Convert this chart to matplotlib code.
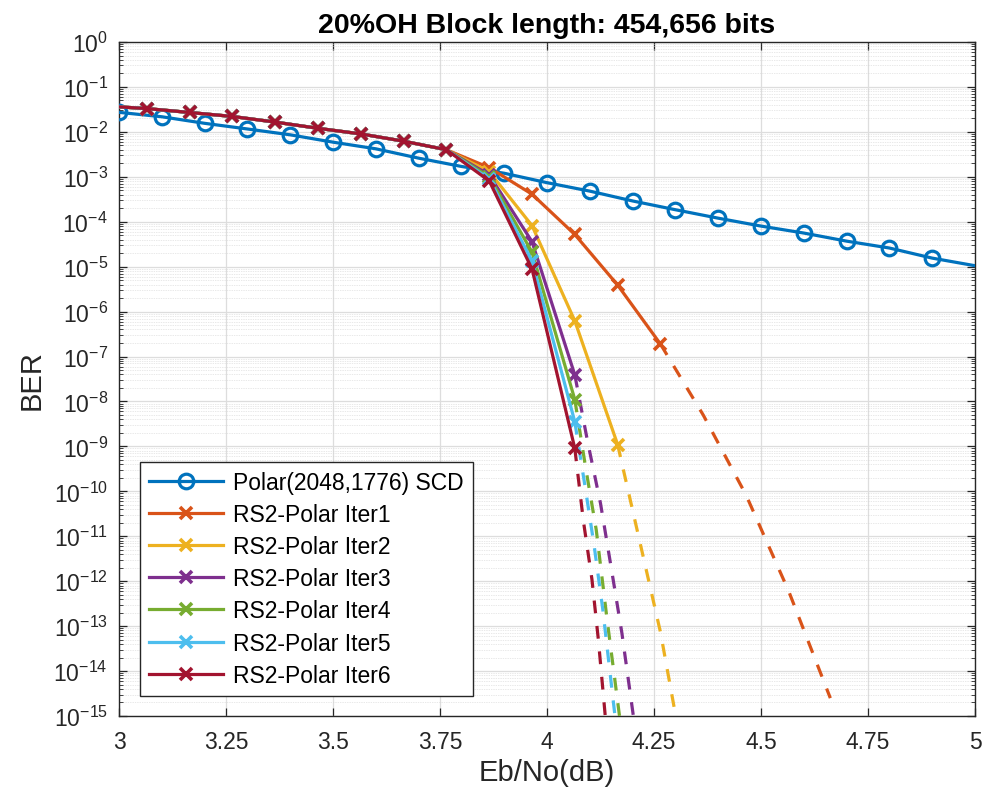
import matplotlib
matplotlib.use('Agg')
import matplotlib.pyplot as plt
from matplotlib.ticker import LogLocator, NullLocator, NullFormatter

# ---------------- data ----------------
polar_x = [3.0, 3.1, 3.2, 3.3, 3.4, 3.5, 3.6, 3.7, 3.8, 3.9, 4.0,
           4.1, 4.2, 4.3, 4.4, 4.5, 4.6, 4.7, 4.8, 4.9, 5.0]
polar_ber = [2.72e-2, 2.17e-2, 1.55e-2, 1.16e-2, 8.6e-3, 5.9e-3, 4.2e-3, 2.6e-3,
             1.7e-3, 1.2e-3, 7.4e-4, 4.8e-4, 2.9e-4, 1.85e-4, 1.2e-4, 8.0e-5,
             5.6e-5, 3.7e-5, 2.6e-5, 1.55e-5, 1.05e-5]

# shared part of all RS2-Polar curves (they coincide here)
rs_common_x = [3.0, 3.065, 3.165, 3.265, 3.365, 3.465, 3.565, 3.665, 3.765]
rs_common_ber = [3.6e-2, 3.3e-2, 2.7e-2, 2.2e-2, 1.65e-2, 1.2e-2, 9.0e-3, 6.2e-3, 4.0e-3]

iter1_x = [3.865, 3.965, 4.065, 4.165, 4.265]
iter1_ber = [1.6e-3, 4.1e-4, 5.2e-5, 3.9e-6, 1.9e-7]
iter1_ext_x = [4.265, 4.365, 4.465, 4.565, 4.662]
iter1_ext_ber = [1.9e-7, 5.0e-9, 8.3e-11, 5.9e-13, 2.5e-15]

iter2_x = [3.865, 3.965, 4.065, 4.165]
iter2_ber = [1.3e-3, 8.2e-5, 6.2e-7, 1.1e-9]
iter2_ext_x = [4.165, 4.215, 4.265, 4.305]
iter2_ext_ber = [1.1e-9, 9.0e-12, 7.4e-14, 6.0e-16]

iter3_x = [3.865, 3.965, 4.065]
iter3_ber = [1.1e-3, 3.6e-5, 3.9e-8]
iter3_ext_x = [4.065, 4.095, 4.125, 4.15, 4.175, 4.205]
iter3_ext_ber = [3.9e-8, 1.26e-9, 5.4e-11, 2.0e-12, 7.0e-14, 6.0e-16]

iter4_x = [3.865, 3.965, 4.065]
iter4_ber = [1.0e-3, 2.1e-5, 1.1e-8]
iter4_ext_x = [4.065, 4.09, 4.115, 4.14, 4.17]
iter4_ext_ber = [1.1e-8, 3.5e-10, 1.4e-11, 1.5e-13, 9.0e-16]

iter5_x = [3.865, 3.965, 4.065]
iter5_ber = [9.0e-4, 1.35e-5, 3.5e-9]
iter5_ext_x = [4.065, 4.09, 4.11, 4.13, 4.16]
iter5_ext_ber = [3.5e-9, 1.1e-10, 6.3e-12, 2.5e-13, 8.0e-16]

iter6_x = [3.865, 3.965, 4.065]
iter6_ber = [8.1e-4, 8.9e-6, 9.0e-10]
iter6_ext_x = [4.065, 4.085, 4.105, 4.12, 4.137]
iter6_ext_ber = [9.0e-10, 2.2e-11, 1.1e-12, 5.0e-14, 8.0e-16]

labels = ['Polar(2048,1776) SCD', 'RS2-Polar Iter1', 'RS2-Polar Iter2',
          'RS2-Polar Iter3', 'RS2-Polar Iter4', 'RS2-Polar Iter5', 'RS2-Polar Iter6']
colors = ['#0072BD', '#D95319', '#EDB120', '#7E2F8E', '#77AC30', '#4DBEEE', '#A2142F']

x_ticks = [3, 3.25, 3.5, 3.75, 4, 4.25, 4.5, 4.75, 5]
x_ticklabels = ['3', '3.25', '3.5', '3.75', '4', '4.25', '4.5', '4.75', '5']
y_exponents = [0, -1, -2, -3, -4, -5, -6, -7, -8, -9, -10, -11, -12, -13, -14, -15]

# ---------------- style ----------------
plt.rcParams['font.family'] = ['Liberation Sans', 'DejaVu Sans']
plt.rcParams['mathtext.fontset'] = 'custom'
plt.rcParams['mathtext.rm'] = 'Liberation Sans'
plt.rcParams['mathtext.it'] = 'Liberation Sans:italic'
plt.rcParams['mathtext.bf'] = 'Liberation Sans:bold'

fig = plt.figure(figsize=(9.85, 8.04), dpi=100)
ax = fig.add_axes([119 / 985, 1 - 717 / 804, 856 / 985, 674 / 804])

lw = 2.3
# Polar SCD
ax.plot(polar_x, polar_ber, color=colors[0], lw=lw, marker='o', ms=10.5,
        mew=2.3, mfc='none', markevery=slice(0, len(polar_x) - 1), label=labels[0],
        zorder=3)

iters = [(iter1_x, iter1_ber, iter1_ext_x, iter1_ext_ber),
         (iter2_x, iter2_ber, iter2_ext_x, iter2_ext_ber),
         (iter3_x, iter3_ber, iter3_ext_x, iter3_ext_ber),
         (iter4_x, iter4_ber, iter4_ext_x, iter4_ext_ber),
         (iter5_x, iter5_ber, iter5_ext_x, iter5_ext_ber),
         (iter6_x, iter6_ber, iter6_ext_x, iter6_ext_ber)]

for i, (sx, sy, ex, ey) in enumerate(iters):
    c = colors[i + 1]
    ax.plot(ex, ey, color=c, lw=lw, ls=(0, (4, 4)), zorder=3 + i * 0.1)
for i, (sx, sy, ex, ey) in enumerate(iters):
    c = colors[i + 1]
    ax.plot(rs_common_x + sx, rs_common_ber + sy, color=c, lw=lw, marker='x',
            ms=8.5, mew=2.6, markevery=slice(1, None), label=labels[i + 1],
            zorder=4 + i * 0.1)

ax.set_yscale('log')
ax.set_xlim(3, 5)
ax.set_ylim(1e-15, 1)

ax.set_xticks(x_ticks)
ax.set_xticklabels(x_ticklabels)
ax.xaxis.set_minor_locator(NullLocator())
ax.set_yticks([10.0 ** e for e in y_exponents])
ax.set_yticklabels([r'$10^{%d}$' % e for e in y_exponents])
ax.yaxis.set_minor_locator(LogLocator(base=10, subs=[2, 3, 4, 5, 6, 7, 8, 9], numticks=200))
ax.yaxis.set_minor_formatter(NullFormatter())

ax.grid(which='major', color='#dddddd', lw=0.9, ls='-')
ax.grid(which='minor', axis='y', color='#d2d2d2', lw=0.5, ls=(0, (1, 1.5)))
ax.set_axisbelow(True)

for s in ax.spines.values():
    s.set_color('#262626')
    s.set_linewidth(1.0)
ax.tick_params(which='both', direction='in', top=True, right=True, colors='#262626')
ax.tick_params(which='major', length=6, width=0.9, labelsize=16.5, labelcolor='#262626')
ax.tick_params(axis='x', which='major', pad=10)
ax.tick_params(axis='y', which='major', pad=8)
ax.tick_params(which='minor', length=3, width=0.6)

ax.set_xlabel('Eb/No(dB)', fontsize=21, color='#262626', labelpad=4)
ax.set_ylabel('BER', fontsize=21, color='#262626', labelpad=6)
ax.set_title('20%OH Block length: 454,656 bits', fontsize=20.5, fontweight='bold',
             pad=7)

leg = ax.legend(loc='lower left', bbox_to_anchor=(21 / 856, 20 / 674), borderaxespad=0,
                fontsize=16.5, fancybox=False, edgecolor='#262626', framealpha=1,
                handlelength=3.2, labelspacing=0.4, borderpad=0.4, handletextpad=0.45)
leg.get_frame().set_linewidth(1.0)

fig.savefig('out.png', dpi=100)
